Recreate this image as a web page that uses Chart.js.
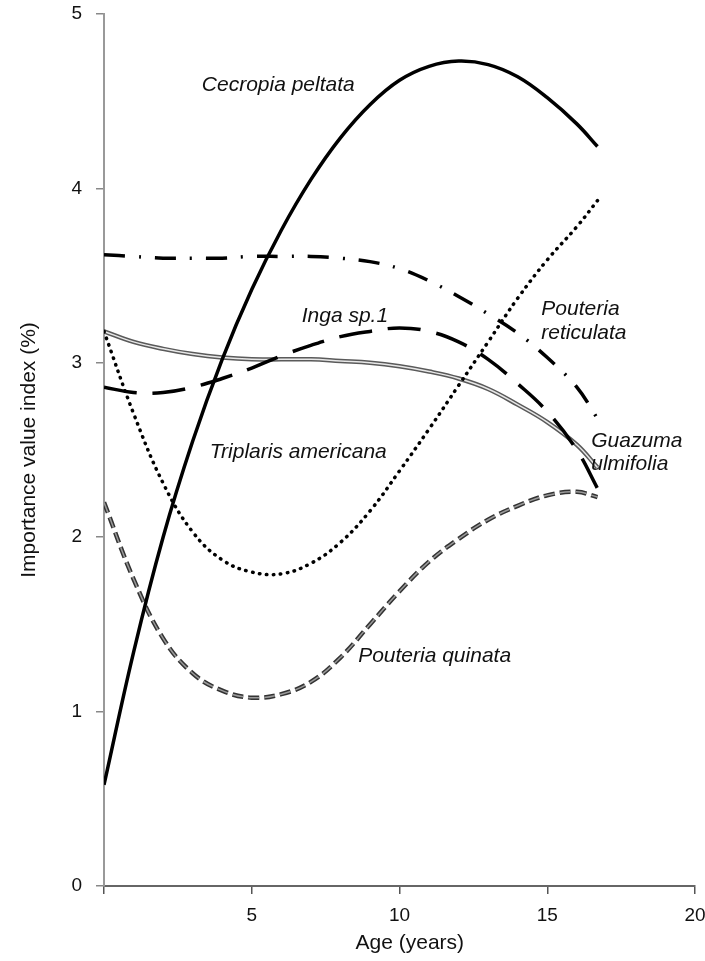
<!DOCTYPE html>
<html>
<head>
<meta charset="utf-8">
<script src="https://cdn.jsdelivr.net/npm/chart.js@4.4.1/dist/chart.umd.min.js"></script>
<style>
  html, body { margin: 0; padding: 0; background: #fff; }
  #wrap { width: 705px; height: 961px; }
</style>
</head>
<body>
<div id="wrap"><canvas id="myChart" width="705" height="961"></canvas></div>
<script>
// ages (years) where the fitted curves are read
const ages = [0, 1, 2, 3, 4, 5, 6, 7, 8, 9, 10, 11, 12, 13, 14, 15, 16, 16.7];

// importance value index (%) per species
const cecropia    = [0.58, 1.34, 2.00, 2.55, 3.02, 3.42, 3.76, 4.05, 4.29, 4.48, 4.62, 4.70, 4.73, 4.71, 4.64, 4.52, 4.37, 4.24];
const reticulata  = [3.62, 3.61, 3.60, 3.60, 3.60, 3.61, 3.61, 3.61, 3.60, 3.58, 3.54, 3.47, 3.38, 3.28, 3.17, 3.03, 2.86, 2.68];
const inga        = [2.86, 2.83, 2.83, 2.86, 2.91, 2.97, 3.04, 3.10, 3.15, 3.18, 3.20, 3.18, 3.12, 3.02, 2.88, 2.72, 2.50, 2.28];
const guazuma     = [3.18, 3.12, 3.08, 3.05, 3.03, 3.02, 3.02, 3.02, 3.01, 3.00, 2.98, 2.95, 2.91, 2.85, 2.76, 2.66, 2.53, 2.40];
const triplaris   = [3.18, 2.71, 2.31, 2.03, 1.87, 1.80, 1.79, 1.85, 1.97, 2.15, 2.38, 2.62, 2.87, 3.12, 3.37, 3.59, 3.78, 3.93];
const quinata     = [2.20, 1.76, 1.42, 1.22, 1.12, 1.08, 1.10, 1.17, 1.31, 1.50, 1.69, 1.86, 1.99, 2.10, 2.18, 2.24, 2.26, 2.23];

// tick values
const xTicks = [0, 5, 10, 15, 20];
const yTicks = [0, 1, 2, 3, 4, 5];

// curve labels, placed in data units (left edge, middle of text)
const labelTexts = ['Cecropia peltata', 'Inga sp.1', 'Triplaris americana', 'Pouteria', 'reticulata', 'Guazuma', 'ulmifolia', 'Pouteria quinata'];
const labelX     = [3.31, 6.69, 3.58, 14.8, 14.8, 16.49, 16.49, 8.6];
const labelY     = [4.59, 3.27, 2.49, 3.31, 3.17, 2.55, 2.42, 1.32];

// x axis title, centred at this age
const xTitle = 'Age (years)';
const xTitleAt = 10.35;

function pts(values){
    return ages.map((a, i) => ({x: a, y: values[i]}));
}

const curveLabels = {
    id: 'curveLabels',
    afterDatasetsDraw(chart){
        const ctx = chart.ctx;
        const xs = chart.scales.x, ys = chart.scales.y;
        ctx.save();
        ctx.font = 'italic 21px "Liberation Sans", Arial, sans-serif';
        ctx.fillStyle = '#111';
        ctx.textAlign = 'left';
        ctx.textBaseline = 'middle';
        labelTexts.forEach((t, i) => {
            ctx.fillText(t, xs.getPixelForValue(labelX[i]), ys.getPixelForValue(labelY[i]));
        });
        // axis title below the tick labels
        ctx.font = '21px "Liberation Sans", Arial, sans-serif';
        ctx.textAlign = 'center';
        ctx.fillText(xTitle, xs.getPixelForValue(xTitleAt), xs.bottom - 18);
        ctx.restore();
    }
};

function draw(){
    const base = {pointRadius: 0, tension: 0.4, fill: false, borderCapStyle: 'butt'};

    const data = {
        datasets: [
            Object.assign({}, base, {label: 'Cecropia peltata', data: pts(cecropia), borderColor: '#000', borderWidth: 3.5, order: 1}),
            Object.assign({}, base, {label: 'Pouteria reticulata', data: pts(reticulata), borderColor: '#000', borderWidth: 3.5, borderDash: [21, 14, 2, 14], order: 3}),
            Object.assign({}, base, {label: 'Inga sp.1', data: pts(inga), borderColor: '#000', borderWidth: 3.5, borderDash: [33, 16], order: 2}),
            Object.assign({}, base, {label: 'Guazuma ulmifolia', data: pts(guazuma), borderColor: '#5a5a5a', borderWidth: 4.5, order: 6}),
            Object.assign({}, base, {label: 'Guazuma ulmifolia inner', data: pts(guazuma), borderColor: '#e8e8e8', borderWidth: 1.5, order: 5}),
            Object.assign({}, base, {label: 'Triplaris americana', data: pts(triplaris), borderColor: '#000', borderWidth: 3.5, borderDash: [0.5, 6.5], borderCapStyle: 'round', order: 4}),
            Object.assign({}, base, {label: 'Pouteria quinata', data: pts(quinata), borderColor: '#333', borderWidth: 4.5, borderDash: [11, 5], order: 8}),
            Object.assign({}, base, {label: 'Pouteria quinata inner', data: pts(quinata), borderColor: '#9a9a9a', borderWidth: 1.5, borderDash: [11, 5], order: 7})
        ]
    };

    const config = {
        type: 'line',
        data: data,
        plugins: [curveLabels],
        options: {
            responsive: false,
            animation: false,
            layout: {padding: {top: 14, right: 10, left: 0, bottom: 0}},
            plugins: {legend: {display: false}, tooltip: {enabled: false}},
            scales: {
                x: {
                    type: 'linear',
                    min: 0,
                    max: 20,
                    afterBuildTicks: s => { s.ticks = xTicks.map(v => ({value: v})); },
                    afterFit: s => { s.height = 75; s.paddingLeft = 0; s.paddingRight = 0; },
                    ticks: {
                        callback: v => v === 0 ? '' : v,
                        color: '#111',
                        font: {family: '"Liberation Sans", Arial, sans-serif', size: 19},
                        padding: 10,
                        maxRotation: 0
                    },
                    grid: {drawOnChartArea: false, drawTicks: true, tickLength: 8, color: '#555', lineWidth: 1.5},
                    border: {display: true, color: '#666', width: 2}
                },
                y: {
                    min: 0,
                    max: 5,
                    afterBuildTicks: s => { s.ticks = yTicks.map(v => ({value: v})); },
                    afterFit: s => { s.width = 104; s.paddingTop = 0; s.paddingBottom = 0; },
                    ticks: {
                        color: '#111',
                        font: {family: '"Liberation Sans", Arial, sans-serif', size: 19},
                        padding: 14
                    },
                    grid: {drawOnChartArea: false, drawTicks: true, tickLength: 8, color: '#888', lineWidth: 1.5},
                    border: {display: true, color: '#999', width: 2},
                    title: {
                        display: true,
                        text: 'Importance value index (%)',
                        color: '#111',
                        font: {family: '"Liberation Sans", Arial, sans-serif', size: 21},
                        padding: {top: 17, bottom: 0}
                    }
                }
            }
        }
    };

    const myChart = new Chart(
        document.getElementById('myChart'),
        config
    );
}

draw();
</script>
</body>
</html>
